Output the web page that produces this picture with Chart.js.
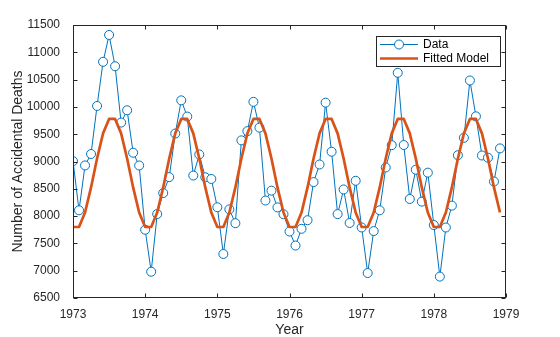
<!DOCTYPE html>
<html><head><meta charset="utf-8">
<script src="https://cdn.jsdelivr.net/npm/chart.js@4"></script>
<style>html,body{margin:0;padding:0;background:#fff}#c{display:block}</style>
</head><body>
<canvas id="c" width="560" height="337"></canvas>
<script>
const startYear = 1973;
const deaths = [
  9007, 8106, 8928, 9137, 10017, 10826, 11317, 10744, 9713, 9938, 9161, 8927,
  7750, 6981, 8038, 8422, 8714, 9512, 10120, 9823, 8743, 9129, 8710, 8680,
  8162, 7306, 8124, 7870, 9387, 9556, 10093, 9620, 8285, 8466, 8160, 8034,
  7717, 7461, 7767, 7925, 8623, 8945, 10078, 9179, 8037, 8488, 7874, 8647,
  7792, 6957, 7726, 8106, 8890, 9299, 10625, 9302, 8314, 8850, 8265, 8796,
  7836, 6892, 7791, 8192, 9115, 9434, 10484, 9827, 9110, 9070, 8633, 9240
];
const fitted = [
  7800, 7800, 8065, 8525, 9055, 9515, 9780, 9780, 9515, 9055, 8525, 8065,
  7800, 7800, 8065, 8525, 9055, 9515, 9780, 9780, 9515, 9055, 8525, 8065,
  7800, 7800, 8065, 8525, 9055, 9515, 9780, 9780, 9515, 9055, 8525, 8065,
  7800, 7800, 8065, 8525, 9055, 9515, 9780, 9780, 9515, 9055, 8525, 8065,
  7800, 7800, 8065, 8525, 9055, 9515, 9780, 9780, 9515, 9055, 8525, 8065,
  7800, 7800, 8065, 8525, 9055, 9515, 9780, 9780, 9515, 9055, 8525, 8065
];
const xTicks = [1973, 1974, 1975, 1976, 1977, 1978, 1979];
const yTicks = [6500, 7000, 7500, 8000, 8500, 9000, 9500, 10000, 10500, 11000, 11500];
const seriesNames = ['Data', 'Fitted Model'];
const xTitle = 'Year';
const yTitle = 'Number of Accidental Deaths';

const FONT = '"Liberation Sans", Arial, Helvetica, sans-serif';
const AX = '#262626';
const toPts = arr => arr.map((v, i) => ({x: startYear + i / 12, y: v}));

const boxPlugin = {
  id: 'box',
  afterDraw(chart) {
    const {ctx, chartArea: a, scales} = chart;
    ctx.save();
    ctx.strokeStyle = AX;
    ctx.lineWidth = 1;
    const l = Math.round(a.left) + 0.5, t = Math.round(a.top) + 0.5;
    const r = Math.round(a.right) - 0.5, b = Math.round(a.bottom) - 0.5;
    ctx.strokeRect(l, t, r - l, b - t);
    const L = 4;
    ctx.beginPath();
    xTicks.forEach(v => {
      const px = Math.round(scales.x.getPixelForValue(v)) + 0.5;
      ctx.moveTo(px, b); ctx.lineTo(px, b - L);
      ctx.moveTo(px, t); ctx.lineTo(px, t + L);
    });
    yTicks.forEach(v => {
      const py = Math.round(scales.y.getPixelForValue(v)) + 0.5;
      ctx.moveTo(l, py); ctx.lineTo(l + L, py);
      ctx.moveTo(r, py); ctx.lineTo(r - L, py);
    });
    ctx.stroke();

    // legend
    const lx = 376.5, ly = 36.5, lw = 124, lh = 30;
    ctx.fillStyle = '#fff';
    ctx.fillRect(lx, ly, lw, lh);
    ctx.strokeStyle = AX;
    ctx.strokeRect(lx, ly, lw, lh);
    const ds = chart.data.datasets;
    ctx.font = '12px ' + FONT;
    ctx.textBaseline = 'middle';
    ctx.textAlign = 'left';
    const y1 = 44.5;
    ctx.strokeStyle = ds[0].borderColor; ctx.lineWidth = 1;
    ctx.beginPath(); ctx.moveTo(380, y1); ctx.lineTo(418, y1); ctx.stroke();
    ctx.fillStyle = '#fff';
    ctx.beginPath(); ctx.arc(399, y1, 4.5, 0, Math.PI * 2); ctx.fill(); ctx.stroke();
    ctx.fillStyle = '#000';
    ctx.fillText(seriesNames[0], 423, y1);
    const y2 = 58.5;
    ctx.strokeStyle = ds[1].borderColor; ctx.lineWidth = 2.7;
    ctx.beginPath(); ctx.moveTo(380, y2); ctx.lineTo(418, y2); ctx.stroke();
    ctx.fillStyle = '#000';
    ctx.fillText(seriesNames[1], 423, y2);
    ctx.restore();
  }
};

new Chart(document.getElementById('c'), {
  type: 'line',
  data: {
    datasets: [
      {
        label: seriesNames[0], data: toPts(deaths),
        borderColor: '#0072BD', backgroundColor: 'rgba(0,0,0,0)',
        borderWidth: 1, pointRadius: 4.5, pointBorderWidth: 1,
        pointBackgroundColor: '#ffffff', pointBorderColor: '#0072BD',
        tension: 0, order: 2
      },
      {
        label: seriesNames[1], data: toPts(fitted),
        borderColor: '#D95319', backgroundColor: 'rgba(0,0,0,0)',
        borderWidth: 2.7, pointRadius: 0, tension: 0, order: 1,
        borderJoinStyle: 'round'
      }
    ]
  },
  options: {
    responsive: false, animation: false, devicePixelRatio: 1,
    layout: {padding: {top: 25, right: 54, left: 0, bottom: 0}},
    plugins: {legend: {display: false}, tooltip: {enabled: false}},
    scales: {
      x: {
        type: 'linear', min: 1973, max: 1979,
        afterBuildTicks: s => { s.ticks = xTicks.map(v => ({value: v})); },
        afterFit: s => { s.height = 39; },
        grid: {display: false}, border: {display: false},
        ticks: {callback: v => String(v), color: AX, font: {family: FONT, size: 12}, padding: 1, maxRotation: 0},
        title: {display: true, text: xTitle, color: AX, font: {family: FONT, size: 14, lineHeight: 1}, padding: {top: 0, bottom: 0}}
      },
      y: {
        type: 'linear', min: 6500, max: 11500,
        afterBuildTicks: s => { s.ticks = yTicks.map(v => ({value: v})); },
        afterFit: s => { s.width = 73; },
        grid: {display: false}, border: {display: false},
        ticks: {callback: v => String(v), color: AX, font: {family: FONT, size: 12}, padding: 5},
        title: {display: true, text: yTitle, color: AX, font: {family: FONT, size: 14, lineHeight: 1}, padding: {top: 11, bottom: 0}}
      }
    }
  },
  plugins: [boxPlugin]
});
</script>
</body></html>
